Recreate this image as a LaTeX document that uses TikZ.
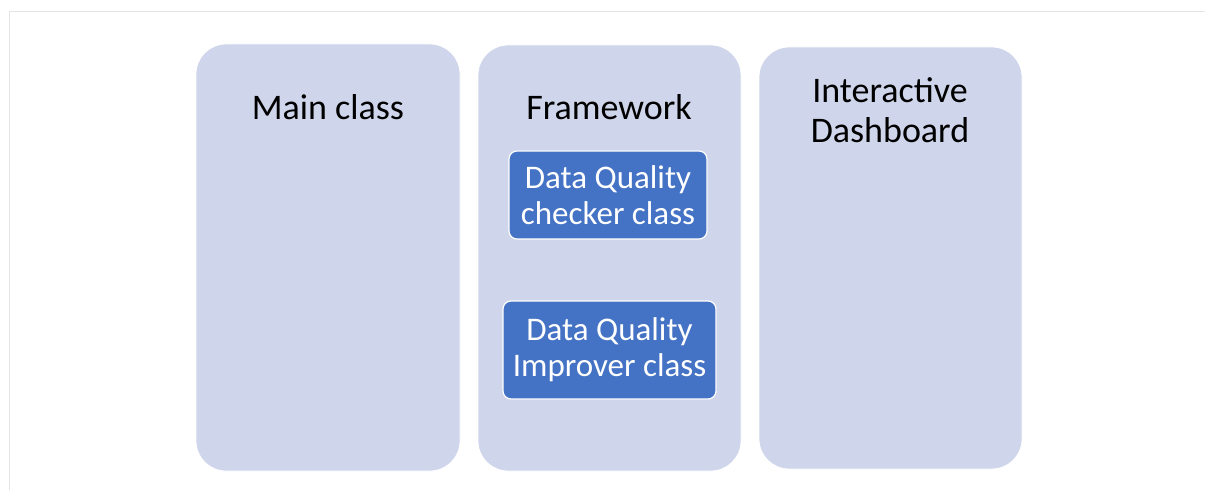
\documentclass[tikz,border=0pt]{standalone}
\usepackage{fontspec}
\setmainfont{Carlito}
\definecolor{colfill}{HTML}{CFD5EA}
\definecolor{classblue}{HTML}{4472C4}
\definecolor{framegray}{HTML}{E4E4E4}
\begin{document}
\begin{tikzpicture}[x=1pt,y=-1pt,
  column/.style={fill=colfill, draw=white, line width=0.8pt, rounded corners=30pt},
  classbox/.style={fill=classblue, draw=white, line width=1.2pt, rounded corners=8pt},
  title/.style={font=\fontsize{36}{40}\selectfont, text=black, align=center, inner sep=0pt},
  classtext/.style={font=\fontsize{33}{36}\selectfont, text=white, align=center, inner sep=0pt}]
  \useasboundingbox[fill=white] (0,0) rectangle (1205,497);
  % faint page frame
  \draw[framegray, line width=1pt] (9.5,490) -- (9.5,11.5) -- (1205,11.5);
  % three columns
  \draw[column] (196,44) rectangle (460,471);
  \draw[column] (478,45) rectangle (741,471);
  \draw[column] (759,47) rectangle (1022,469);
  % column titles
  \node[title] (main) at (328,107) {Main class};
  \node[title] (fw) at (609,107) {Framework};
  \node[title] (dash) at (890,110) {Interactive\\Dashboard};
  % classes inside the framework column
  \draw[classbox] (509,151) rectangle (707,239);
  \node[classtext] (checker) at (608,195) {Data Quality\\checker class};
  \draw[classbox] (503,301) rectangle (716,399);
  \node[classtext] (improver) at (609.5,350) {Data Quality\\Improver class};
\end{tikzpicture}
\end{document}
